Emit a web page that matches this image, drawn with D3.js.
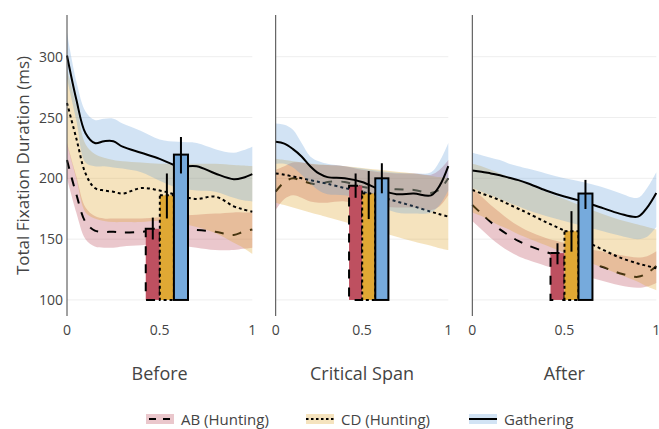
<!DOCTYPE html>
<html>
<head>
<meta charset="utf-8">
<script src="https://cdn.jsdelivr.net/npm/d3@7"></script>
<style>
  html, body { margin: 0; padding: 0; background: #fff; }
  svg { display: block; font-family: "Open Sans", "Noto Sans", sans-serif; }
</style>
</head>
<body>
<svg id="chart" width="659" height="429"></svg>
<script>
// Normalised position within each region (0 = start, 1 = end)
const xs = [0, 0.05, 0.1, 0.15, 0.2, 0.25, 0.3, 0.4, 0.5, 0.6, 0.7, 0.8, 0.9, 0.95, 1];

const panelNames = ["Before", "Critical Span", "After"];
const seriesNames = ["AB (Hunting)", "CD (Hunting)", "Gathering"];
const yTicks = [100, 150, 200, 250, 300];
const xTicks = [0, 0.5, 1];

// Before: mean curves with confidence bands (ms)
const beforeAB   = [215, 187, 164, 157, 156, 156, 155.5, 156, 158, 158, 157.5, 156, 153.5, 156, 158];
const beforeABLo = [200, 172, 150, 144, 143, 143, 144, 145, 146, 145, 143, 141, 141, 142, 143];
const beforeABHi = [229, 202, 176, 169, 167, 167, 167, 167, 168, 169, 170, 171, 172, 172, 172];
const beforeCD   = [262, 233, 204, 192, 190, 189, 187.5, 192, 190, 186, 183, 185, 177, 174.5, 172.5];
const beforeCDLo = [228, 200, 172, 167, 165, 164, 164, 164, 165, 163, 160, 155, 147, 143, 138];
const beforeCDHi = [290, 260, 228, 220, 217, 215, 214, 213, 212, 212, 212, 212, 211, 210.5, 210];
const beforeG    = [301, 265, 237, 229, 230.5, 230.5, 226, 221, 216, 210, 210, 204, 199.3, 200.5, 203.5];
const beforeGLo  = [282, 248, 213, 210, 210, 209, 208, 205, 198, 192, 190, 189, 184, 182, 181];
const beforeGHi  = [320, 280, 255, 248, 249, 249, 245, 239, 232, 230, 229, 224, 221, 223, 226];

// Critical Span
const criticalAB   = [189, 197, 200, 198, 196, 195, 197, 197, 193, 191.5, 191, 190.5, 188, 191, 200];
const criticalABLo = [174, 183, 186, 184, 181, 180, 180, 181, 178, 177, 176, 176, 174, 177, 186];
const criticalABHi = [207, 210, 213, 213, 212, 211, 211, 210, 207, 205, 204, 204, 203, 207, 215];
const criticalCD   = [204, 203, 201.5, 200, 198.5, 197, 195.5, 192, 189, 185, 181, 177, 172.5, 170.5, 168.5];
const criticalCDLo = [180, 178, 176, 174, 172, 170, 168, 164, 160, 156, 152, 148, 144.5, 142.5, 141];
const criticalCDHi = [216, 215, 214, 213, 212, 211.5, 211, 210, 208.5, 207, 205.5, 204, 202, 201, 200];
const criticalG    = [230, 228.5, 224, 218, 210, 204, 201, 200, 197, 191, 187, 187.5, 186, 194, 210];
const criticalGLo  = [212, 212, 209, 203, 196, 190, 187, 186, 183, 177, 172, 171, 172, 178, 190];
const criticalGHi  = [245, 244, 240, 229, 218, 214, 212, 210, 208, 206, 204.5, 204, 205, 214, 229];

// After
const afterAB   = [178, 171, 164, 158, 153, 148.5, 145, 139.5, 135, 131, 127.5, 122, 119, 122, 128];
const afterABLo = [165, 158, 151, 145, 140, 136, 133, 128, 124, 120, 116, 112, 110, 111, 114];
const afterABHi = [192, 185, 178, 172, 166, 161, 157, 151, 147, 143, 140, 137, 135, 136, 140];
const afterCD   = [190.5, 187.5, 185, 182, 178.5, 175, 171.5, 164, 157, 149.5, 142, 135, 130, 128, 126];
const afterCDLo = [172, 169, 165, 161, 158, 154, 151, 145, 139, 133, 127, 121, 115, 111, 108];
const afterCDHi = [212, 210, 207, 204, 201, 198, 195, 189, 183, 177, 171, 166, 162, 160, 158];
const afterG    = [206.5, 205.5, 204, 202.5, 200.5, 198.5, 196, 190, 185, 181, 176, 171, 168.5, 176, 188];
const afterGLo  = [192, 189, 186, 183, 180, 177, 174, 169, 165, 161, 157, 153, 150, 152, 160];
const afterGHi  = [221, 219, 217, 215, 212, 210, 208, 204, 200, 197, 193, 188, 184, 192, 205];

// Bar summaries: mean, lower and upper error per series (AB, CD, Gathering)
const barPos     = [0.463, 0.539, 0.615];
const beforeBar   = [158.5, 186, 219.5];
const beforeErrLo = [149.7, 167, 204];
const beforeErrHi = [167.7, 204, 234];
const criticalBar   = [194, 187.5, 200];
const criticalErrLo = [184, 166.5, 187.7];
const criticalErrHi = [204, 206, 212.4];
const afterBar   = [138.5, 156.5, 187.5];
const afterErrLo = [129.3, 139.7, 174.8];
const afterErrHi = [146.6, 173, 198.7];

const panels = [
  { name: panelNames[0], range: [67, 252.3],
    curves: [[beforeAB, beforeABLo, beforeABHi], [beforeCD, beforeCDLo, beforeCDHi], [beforeG, beforeGLo, beforeGHi]],
    bars: beforeBar, lo: beforeErrLo, hi: beforeErrHi },
  { name: panelNames[1], range: [275.7, 448.3],
    curves: [[criticalAB, criticalABLo, criticalABHi], [criticalCD, criticalCDLo, criticalCDHi], [criticalG, criticalGLo, criticalGHi]],
    bars: criticalBar, lo: criticalErrLo, hi: criticalErrHi },
  { name: panelNames[2], range: [472.3, 656.3],
    curves: [[afterAB, afterABLo, afterABHi], [afterCD, afterCDLo, afterCDHi], [afterG, afterGLo, afterGHi]],
    bars: afterBar, lo: afterErrLo, hi: afterErrHi }
];

const barColors  = ["rgb(190,80,96)", "rgb(224,168,52)", "rgb(118,170,220)"];
const bandColors = ["rgba(190,80,96,0.32)", "rgba(224,168,52,0.32)", "rgba(93,156,216,0.28)"];
const dashes     = ["9,9", "3,3", null];

const svg = d3.select("#chart");
const y = d3.scaleLinear().domain([86.8, 334.3]).range([316, 15]);
const textColor = "#444";

panels.forEach((p, pi) => {
  const x = d3.scaleLinear().domain([0, 1]).range(p.range);
  const g = svg.append("g");

  // horizontal grid
  g.selectAll("line.grid").data(yTicks).join("line")
    .attr("x1", p.range[0]).attr("x2", p.range[1])
    .attr("y1", d => y(d)).attr("y2", d => y(d))
    .attr("stroke", "#eee").attr("stroke-width", 1);

  const area = d3.area().curve(d3.curveCatmullRom.alpha(0.5))
    .x((d, i) => x(xs[i])).y0(d => y(d[0])).y1(d => y(d[1]));
  const line = d3.line().curve(d3.curveCatmullRom.alpha(0.5))
    .x((d, i) => x(xs[i])).y(d => y(d));

  // bands then mean curves, one series at a time
  p.curves.forEach((c, si) => {
    const bandData = c[1].map((lo, i) => [lo, c[2][i]]);
    g.append("path").datum(bandData).attr("d", area)
      .attr("fill", bandColors[si]).attr("stroke", "none");
    const path = g.append("path").datum(c[0]).attr("d", line)
      .attr("fill", "none").attr("stroke", "#000").attr("stroke-width", 2);
    if (dashes[si]) path.attr("stroke-dasharray", dashes[si]);
  });

  // summary bars
  const bw = x(0.076) - x(0);
  p.bars.forEach((v, si) => {
    const r = g.append("rect")
      .attr("x", x(barPos[si]) - bw / 2).attr("width", bw)
      .attr("y", y(v)).attr("height", y(100) - y(v))
      .attr("fill", barColors[si]).attr("stroke", "#000").attr("stroke-width", 2);
    if (dashes[si]) r.attr("stroke-dasharray", dashes[si]);
  });
  // error bars
  p.bars.forEach((v, si) => {
    g.append("line")
      .attr("x1", x(barPos[si])).attr("x2", x(barPos[si]))
      .attr("y1", y(p.lo[si])).attr("y2", y(p.hi[si]))
      .attr("stroke", "#000").attr("stroke-width", 2);
  });

  // vertical axis line
  g.append("line").attr("x1", p.range[0]).attr("x2", p.range[0])
    .attr("y1", 15).attr("y2", 316).attr("stroke", textColor).attr("stroke-width", 1);

  // x tick labels
  g.selectAll("text.xt").data(xTicks).join("text")
    .attr("x", d => x(d)).attr("y", 335)
    .attr("text-anchor", "middle").attr("font-size", 14).attr("fill", textColor)
    .text(d => d3.format("~g")(d));

  // panel title
  g.append("text").attr("x", (p.range[0] + p.range[1]) / 2).attr("y", 380)
    .attr("text-anchor", "middle").attr("font-size", 18).attr("fill", textColor)
    .text(p.name);

  // y tick labels on the first panel only
  if (pi === 0) {
    g.selectAll("text.yt").data(yTicks).join("text")
      .attr("x", 63).attr("y", d => y(d) + 5)
      .attr("text-anchor", "end").attr("font-size", 14).attr("fill", textColor)
      .text(d => d);
  }
});

// y-axis title
svg.append("text")
  .attr("transform", "translate(28.5,165.5) rotate(-90)")
  .attr("text-anchor", "middle").attr("font-size", 17).attr("fill", textColor)
  .text("Total Fixation Duration (ms)");

// legend
const legendX = [146, 306, 469];
seriesNames.forEach((name, si) => {
  const lg = svg.append("g").attr("transform", `translate(${legendX[si]},419)`);
  lg.append("rect").attr("x", 0).attr("y", -5).attr("width", 28).attr("height", 10)
    .attr("fill", bandColors[si]);
  const l = lg.append("line").attr("x1", 0).attr("x2", 28).attr("y1", 0).attr("y2", 0)
    .attr("stroke", "#000").attr("stroke-width", 2);
  if (dashes[si]) l.attr("stroke-dasharray", si === 0 ? "7,7" : "2.5,2.5").attr("stroke-dashoffset", si === 0 ? -3 : 0);
  lg.append("text").attr("x", 35).attr("y", 5.5)
    .attr("font-size", 15).attr("fill", textColor).text(name);
});
</script>
</body>
</html>
